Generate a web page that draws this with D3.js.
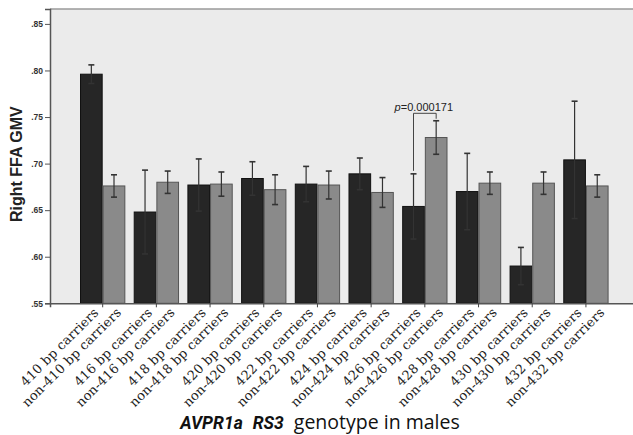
<!DOCTYPE html>
<html>
<head>
<meta charset="utf-8">
<script src="https://cdn.jsdelivr.net/npm/d3@7"></script>
<style>
  html, body { margin: 0; padding: 0; background: #fff; }
  svg { display: block; }
</style>
</head>
<body>
<svg id="chart" width="633" height="435"></svg>
<script>
// ---- data ----
const groups = ["410", "416", "418", "420", "422", "424", "426", "428", "430", "432"];
const carrierMeans = [0.796, 0.648, 0.677, 0.684, 0.678, 0.689, 0.654, 0.670, 0.590, 0.704];
const carrierErrors = [0.010, 0.045, 0.028, 0.018, 0.019, 0.017, 0.035, 0.041, 0.020, 0.063];
const nonCarrierMeans = [0.676, 0.680, 0.678, 0.672, 0.677, 0.669, 0.728, 0.679, 0.679, 0.676];
const nonCarrierErrors = [0.012, 0.012, 0.013, 0.016, 0.015, 0.016, 0.018, 0.012, 0.012, 0.012];
const seriesKeys = ["carriers", "non"];
const yTickValues = [0.55, 0.60, 0.65, 0.70, 0.75, 0.80, 0.85];
const yDomain = [0.55, 0.866];
const sigGroup = "426";
const sigLabel = "0.000171";
const sigLevel = 0.754;
const yTitle = "Right FFA GMV";

(function () {
// ---- layout ----
const svg = d3.select("#chart");
const pLeft = 50, pRight = 638.6, pTop = 9, pBottom = 303.3;

const x = d3.scaleBand().domain(groups).range([pLeft, pRight])
  .paddingInner(0.156).paddingOuter(0.559);
const xSub = d3.scaleBand().domain(seriesKeys).range([0, x.bandwidth()]);
const y = d3.scaleLinear().domain(yDomain).range([pBottom, pTop]);

const bars = [];
groups.forEach((g, i) => {
  bars.push({ g, key: "carriers", v: carrierMeans[i], e: carrierErrors[i], label: g + " bp carriers" });
  bars.push({ g, key: "non", v: nonCarrierMeans[i], e: nonCarrierErrors[i], label: "non-" + g + " bp carriers" });
});
const cx = d => x(d.g) + xSub(d.key) + xSub.bandwidth() / 2;

// plot background
svg.append("rect").attr("x", pLeft).attr("y", pTop)
  .attr("width", pRight - pLeft).attr("height", pBottom - pTop)
  .attr("fill", "#ebebeb");
svg.append("line").attr("x1", pLeft).attr("x2", pRight).attr("y1", pTop).attr("y2", pTop)
  .attr("stroke", "#9a9a9a").attr("stroke-width", 1.5);

// bars
svg.append("g").selectAll("rect").data(bars).join("rect")
  .attr("x", d => x(d.g) + xSub(d.key) + 0.5)
  .attr("y", d => y(d.v))
  .attr("width", xSub.bandwidth() - 1)
  .attr("height", d => pBottom - y(d.v))
  .attr("fill", d => d.key === "carriers" ? "#262626" : "#8a8a8a")
  .attr("stroke", d => d.key === "carriers" ? "#111" : "#555")
  .attr("stroke-width", 1);

// error bars
const eg = svg.append("g").attr("stroke", "#333").attr("stroke-width", 1.2);
bars.forEach(d => {
  const c = cx(d);
  eg.append("line").attr("x1", c).attr("x2", c).attr("y1", y(d.v + d.e)).attr("y2", y(d.v - d.e));
  eg.append("line").attr("x1", c - 3).attr("x2", c + 3).attr("y1", y(d.v + d.e)).attr("y2", y(d.v + d.e)).attr("stroke-width", 1.6);
  eg.append("line").attr("x1", c - 3).attr("x2", c + 3).attr("y1", y(d.v - d.e)).attr("y2", y(d.v - d.e)).attr("stroke-width", 1.6);
});

// significance bracket
const sb = bars.filter(d => d.g === sigGroup);
const by = y(sigLevel);
const sg = svg.append("g");
sg.append("path")
  .attr("d", `M${cx(sb[0])},${y(sb[0].v + sb[0].e) - 3}V${by}H${cx(sb[1])}V${y(sb[1].v + sb[1].e) - 2}`)
  .attr("fill", "none").attr("stroke", "#444").attr("stroke-width", 1);
const st = sg.append("text")
  .attr("x", (cx(sb[0]) + cx(sb[1])) / 2 - 1).attr("y", by - 2.5)
  .attr("text-anchor", "middle")
  .attr("font-family", "Liberation Sans, Arial, sans-serif")
  .attr("font-size", 11).attr("fill", "#222");
st.append("tspan").attr("font-style", "italic").text("p");
st.append("tspan").text("=" + sigLabel);

// y axis
const yAxis = d3.axisLeft(y).tickValues(yTickValues).tickSize(5).tickPadding(2)
  .tickFormat(d => d3.format(".2f")(d).replace(/^0/, ""));
const ya = svg.append("g").attr("transform", `translate(${pLeft},0)`).call(yAxis);
ya.select(".domain").attr("stroke", "#555").attr("stroke-width", 1.5);
ya.selectAll(".tick line").attr("stroke", "#555");
ya.selectAll(".tick text").attr("font-family", "Liberation Sans, Arial, sans-serif")
  .attr("font-size", 8.5).attr("font-weight", "bold").attr("fill", "#333");

// x axis
const xAxis = d3.axisBottom(x).tickSize(4).tickFormat("");
const xa = svg.append("g").attr("transform", `translate(0,${pBottom})`).call(xAxis);
xa.select(".domain").attr("stroke", "#555").attr("stroke-width", 1.5);
xa.selectAll(".tick line").attr("stroke", "#444");

// x labels (one per bar)
svg.append("g").selectAll("text").data(bars).join("text")
  .attr("transform", d => `translate(${cx(d) + 8},${pBottom + 10}) rotate(-45)`)
  .attr("text-anchor", "end")
  .attr("font-family", "DejaVu Serif, serif")
  .attr("font-size", 13)
  .attr("letter-spacing", 0.15)
  .attr("fill", "#222")
  .text(d => d.label);

// y title
svg.append("text")
  .attr("transform", `translate(22,${(pTop + pBottom) / 2 + 8}) rotate(-90)`)
  .attr("text-anchor", "middle")
  .attr("font-family", "Liberation Sans, Arial, sans-serif")
  .attr("font-weight", "bold").attr("font-size", 16).attr("fill", "#222")
  .text(yTitle);

// x title
const xt = svg.append("text")
  .attr("x", 320).attr("y", 429)
  .attr("text-anchor", "middle")
  .attr("fill", "#111");
xt.append("tspan").attr("font-family", "Roboto, sans-serif").attr("font-style", "italic")
  .attr("font-weight", "bold").attr("font-size", 17.5).text("AVPR1a");
xt.append("tspan").attr("font-family", "Roboto, sans-serif").attr("font-style", "italic")
  .attr("font-weight", "bold").attr("font-size", 17.5).attr("dx", 10).text("RS3");
xt.append("tspan").attr("font-family", "Open Sans, sans-serif")
  .attr("font-size", 19.5).attr("dx", 10).text("genotype in males");
})();
</script>
</body>
</html>
